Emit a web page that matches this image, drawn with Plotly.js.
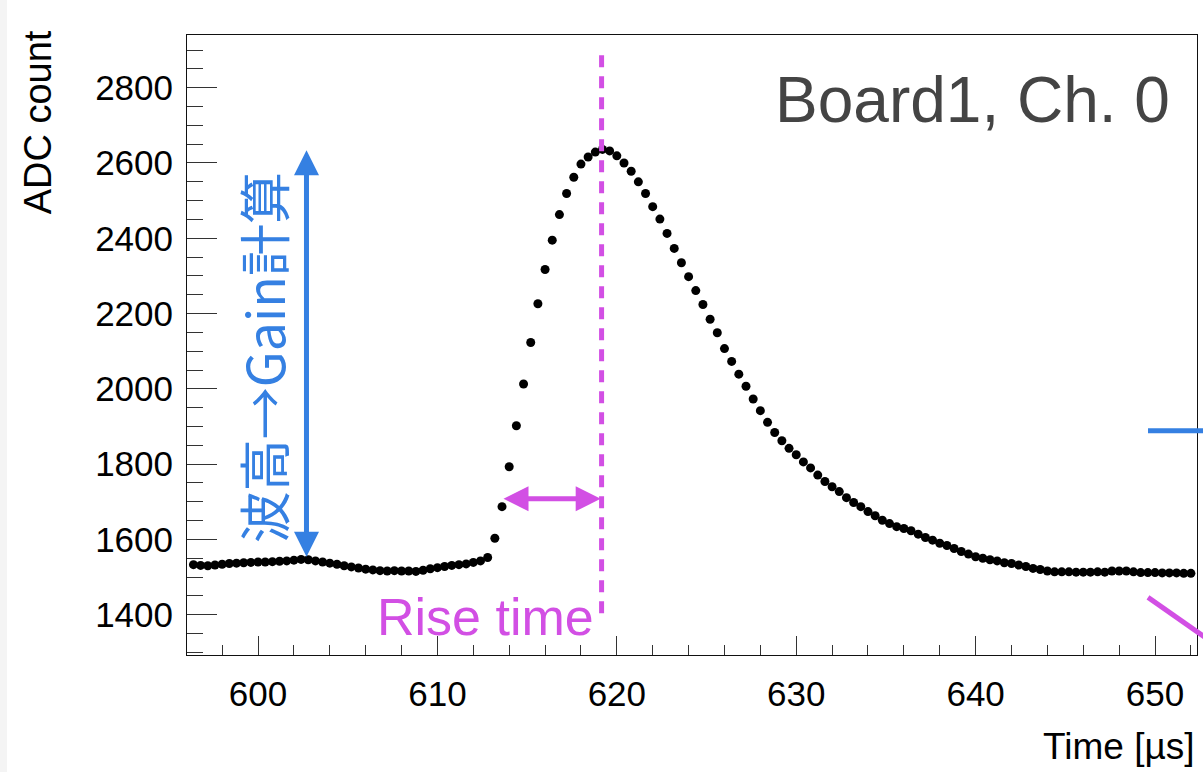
<!DOCTYPE html>
<html>
<head>
<meta charset="utf-8">
<script src="https://cdn.plot.ly/plotly-3.0.1.min.js"></script>
<style>html,body{margin:0;padding:0;background:#fff;}#chart{width:1203px;height:772px;}</style>
</head>
<body>
<div id="chart"></div>
<script>
// Sample times [µs]
const timeUs = [
  596.4,596.8,597.2,597.6,598.0,598.4,598.8,599.2,599.6,600.0,
  600.4,600.8,601.2,601.6,602.0,602.4,602.8,603.2,603.6,604.0,
  604.4,604.8,605.2,605.6,606.0,606.4,606.8,607.2,607.6,608.0,
  608.4,608.8,609.2,609.6,610.0,610.4,610.8,611.2,611.6,612.0,
  612.4,612.8,613.2,613.6,614.0,614.4,614.8,615.2,615.6,616.0,
  616.4,616.8,617.2,617.6,618.0,618.4,618.8,619.2,619.6,620.0,
  620.4,620.8,621.2,621.6,622.0,622.4,622.8,623.2,623.6,624.0,
  624.4,624.8,625.2,625.6,626.0,626.4,626.8,627.2,627.6,628.0,
  628.4,628.8,629.2,629.6,630.0,630.4,630.8,631.2,631.6,632.0,
  632.4,632.8,633.2,633.6,634.0,634.4,634.8,635.2,635.6,636.0,
  636.4,636.8,637.2,637.6,638.0,638.4,638.8,639.2,639.6,640.0,
  640.4,640.8,641.2,641.6,642.0,642.4,642.8,643.2,643.6,644.0,
  644.4,644.8,645.2,645.6,646.0,646.4,646.8,647.2,647.6,648.0,
  648.4,648.8,649.2,649.6,650.0,650.4,650.8,651.2,651.6,652.0
];
// ADC counts
const adcCount = [
  1533,1531,1530,1532,1534,1536,1537,1538,1539,1540,
  1540,1541,1542,1543,1545,1547,1546,1543,1540,1537,
  1534,1530,1527,1524,1521,1519,1517,1516,1517,1516,
  1516,1515,1518,1522,1525,1528,1531,1533,1535,1539,
  1543,1552,1603,1687,1793,1902,2013,2123,2226,2317,
  2395,2463,2519,2562,2597,2616,2629,2636,2632,2619,
  2600,2578,2550,2519,2484,2451,2413,2373,2335,2298,
  2261,2224,2185,2149,2107,2073,2039,2007,1973,1942,
  1911,1884,1862,1842,1825,1806,1790,1771,1754,1740,
  1727,1711,1698,1687,1674,1663,1651,1642,1634,1629,
  1623,1614,1605,1598,1590,1584,1576,1568,1561,1554,
  1550,1546,1543,1538,1536,1532,1528,1523,1520,1516,
  1514,1514,1514,1513,1513,1513,1514,1513,1516,1516,
  1516,1514,1512,1512,1512,1511,1511,1511,1510,1510
];

// Annotation anchors (data units)
const gainArrowX = 602.7;
const gainArrowY = [1550, 2634];
const riseArrowX = [613.6, 619.1];
const riseArrowY = 1708;
const peakLineX = 619.15;
const peakLineY = [1404, 2898];

const xLabels = { title: 'Time [µs]' };
const yLabels = { title: 'ADC count' };
const boardLabel = 'Board1, Ch. 0';
const gainLabel = '波高→Gain計算';
const riseLabel = 'Rise time';

const BLUE = '#3580e2';
const MAGENTA = '#d24fe4';
const FONT = 'Liberation Sans, Arial, Helvetica, sans-serif';

const trace = {
  x: timeUs, y: adcCount, type: 'scatter', mode: 'markers',
  marker: { color: '#000', size: 9, symbol: 'circle' },
  hoverinfo: 'x+y', showlegend: false
};

const axisCommon = {
  showgrid: false, zeroline: false, showline: true, mirror: true,
  linecolor: '#111', linewidth: 1, ticks: 'inside', tickcolor: '#333', tickwidth: 1,
  tickfont: { family: FONT, size: 35, color: '#000' }
};

const layout = {
  width: 1203, height: 772,
  margin: { l: 187, r: 6, t: 35, b: 117, pad: 0 },
  paper_bgcolor: '#fff', plot_bgcolor: '#fff',
  font: { family: FONT, color: '#000' },
  xaxis: Object.assign({}, axisCommon, {
    range: [596.04, 652.34], dtick: 10, tick0: 600, ticklen: 19,
    minor: { dtick: 2, ticks: 'inside', ticklen: 10, tickcolor: '#333', tickwidth: 1 },
    ticklabelstandoff: 8
  }),
  yaxis: Object.assign({}, axisCommon, {
    range: [1293, 2940], dtick: 200, tick0: 1400, ticklen: 30,
    minor: { dtick: 50, ticks: 'inside', ticklen: 16, tickcolor: '#333', tickwidth: 1 },
    ticklabelstandoff: 6
  }),
  shapes: [
    { type: 'rect', xref: 'paper', yref: 'paper', x0: -0.1852, x1: -0.1782, y0: -0.19, y1: 1.06,
      fillcolor: '#f4f4f4', line: { width: 0 }, layer: 'below' },
    { type: 'line', xref: 'x', yref: 'y', x0: peakLineX, x1: peakLineX, y0: peakLineY[0], y1: peakLineY[1],
      line: { color: MAGENTA, width: 5, dash: '12px,9px' } },
    { type: 'line', xref: 'paper', yref: 'y', x0: 0.9515, x1: 1.01, y0: 1889, y1: 1889,
      line: { color: BLUE, width: 5 } },
    { type: 'line', xref: 'paper', yref: 'paper', x0: 0.9515, x1: 1.012, y0: 0.093, y1: 0.024,
      line: { color: MAGENTA, width: 5 } }
  ],
  annotations: [
    { xref: 'x', yref: 'y', x: gainArrowX, y: gainArrowY[1], axref: 'x', ayref: 'y',
      ax: gainArrowX, ay: gainArrowY[0], text: '', showarrow: true, arrowside: 'end+start',
      arrowhead: 2, startarrowhead: 2, arrowsize: 1, startarrowsize: 1, arrowwidth: 5, arrowcolor: BLUE,
      standoff: 0, startstandoff: 0 },
    { xref: 'x', yref: 'y', x: riseArrowX[1], y: riseArrowY, axref: 'x', ayref: 'y',
      ax: riseArrowX[0], ay: riseArrowY, text: '', showarrow: true, arrowside: 'end+start',
      arrowhead: 2, startarrowhead: 2, arrowsize: 1, startarrowsize: 1, arrowwidth: 5, arrowcolor: MAGENTA,
      standoff: 0, startstandoff: 0 },
    { xref: 'paper', yref: 'paper', x: 0.975, y: 0.895, xanchor: 'right', yanchor: 'middle',
      text: boardLabel, showarrow: false, font: { family: FONT, size: 64, color: '#444' } },
    { xref: 'paper', yref: 'paper', x: 0.075, y: 0.48, xanchor: 'center', yanchor: 'middle',
      text: gainLabel, textangle: -90, showarrow: false,
      font: { family: 'Noto Sans CJK JP, sans-serif', size: 52, color: BLUE } },
    { xref: 'paper', yref: 'paper', x: 0.296, y: 0.061, xanchor: 'center', yanchor: 'middle',
      text: riseLabel, showarrow: false, font: { family: FONT, size: 52, color: MAGENTA } },
    { xref: 'paper', yref: 'paper', x: 1.0, y: -0.147, xanchor: 'right', yanchor: 'middle',
      text: xLabels.title, showarrow: false, font: { family: FONT, size: 37, color: '#000' } },
    { xref: 'paper', yref: 'paper', x: -0.148, y: 1.01, xanchor: 'center', yanchor: 'top',
      text: yLabels.title, textangle: -90, showarrow: false, font: { family: FONT, size: 38, color: '#000' } }
  ]
};

Plotly.newPlot('chart', [trace], layout, { displayModeBar: false, staticPlot: true });
</script>
</body>
</html>
